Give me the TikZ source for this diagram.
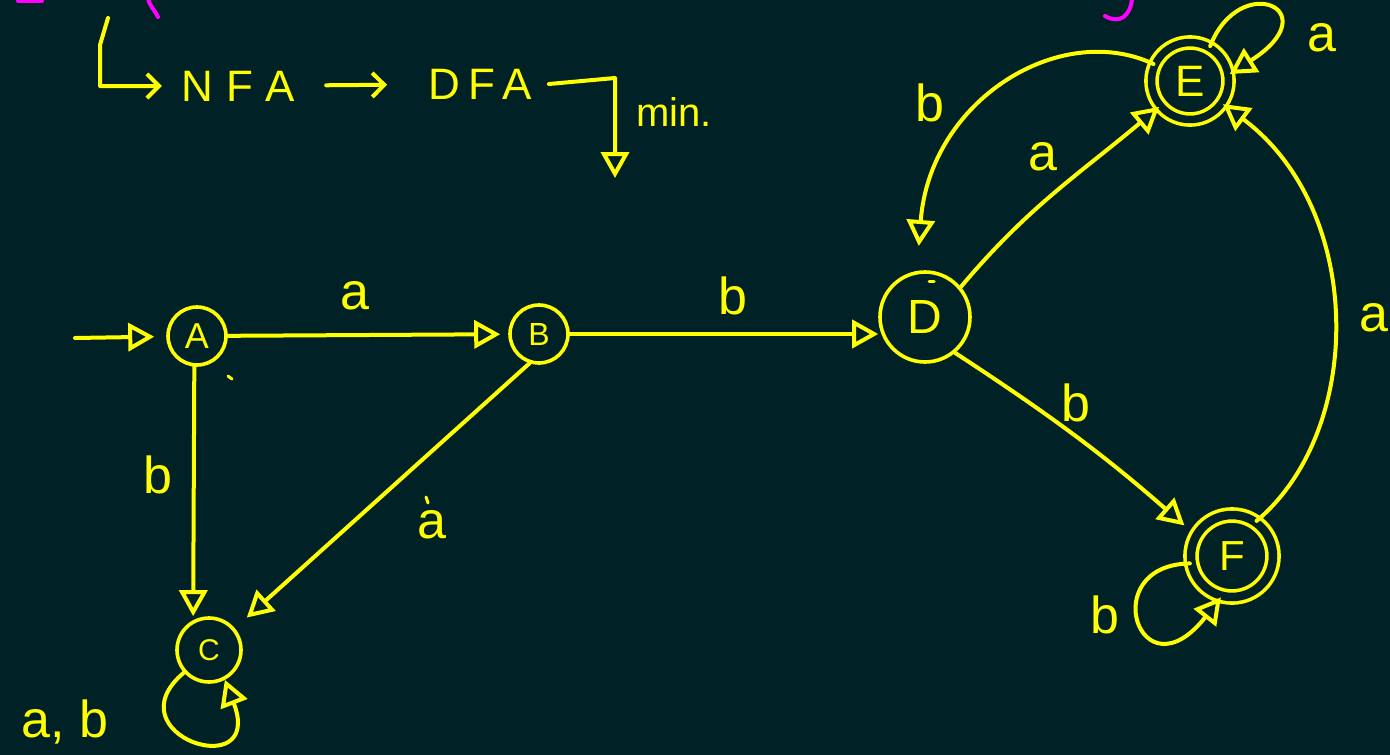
\documentclass[tikz,border=0pt]{standalone}
\usepackage{fontspec}
\setmainfont{Liberation Sans}
\usetikzlibrary{arrows.meta}
\definecolor{bg}{RGB}{0,34,38}
\definecolor{ink}{RGB}{255,255,0}
\definecolor{pinkink}{RGB}{255,0,255}
\begin{document}
\begin{tikzpicture}[x=1pt,y=1pt,
  line width=4pt, line cap=round, line join=round,
  state/.style={circle, draw=ink, line width=3.6pt, inner sep=0pt, text=ink},
  accst/.style={state, double=bg},
  arr/.style={draw=ink, -{Triangle[open, length=26pt, width=28pt]}},
  barb/.style={draw=ink, -{Straight Barb[length=12pt, width=24pt]}},
  lbl/.style={text=ink, font=\fontsize{52}{52}\selectfont, inner sep=0pt},
  strayline/.style={draw=ink, line width=3pt},
  pk/.style={draw=pinkink, line width=4pt}]
\useasboundingbox (0,0) rectangle (1390,-755);
\fill[bg] (0,0) rectangle (1390,-755);

% magenta fragments
\draw[pk] (18,-1) -- (42,-1);
\draw[pk] (148,2) to[out=-80,in=115] (158,-17);
\draw[pk] (1132,2) .. controls (1131,-15) and (1120,-25) .. (1105,-16);

% top line
\node[text=ink, font=\fontsize{44}{44}\selectfont\addfontfeature{LetterSpace=32}] (nfa) at (238,-86) {NFA};
\node[text=ink, font=\fontsize{44}{44}\selectfont\addfontfeature{LetterSpace=20}] (dfa) at (480,-84) {DFA};
\node[text=ink, font=\fontsize{40}{40}\selectfont] (mintxt) at (674,-112) {min.};
\coordinate (l0) at (108,-18);
\coordinate (mn) at (615,-178);
\draw[barb] (l0) -- (100,-45) |- ([xshift=-14pt]nfa.west);
\draw[barb, shorten <=26pt, shorten >=36pt] (nfa) -- (dfa);
\draw[arr] ([xshift=12pt]dfa.east) -- (615,-78) -- (mn);

% states
\node[state, minimum size=58pt, font=\fontsize{36}{36}\selectfont] (A) at (197,-336) {A};
\node[state, minimum size=58pt, font=\fontsize{32}{32}\selectfont] (B) at (539,-334) {B};
\node[state, minimum size=64pt, font=\fontsize{30}{30}\selectfont] (C) at (209,-650) {C};
\node[state, minimum size=90pt, font=\fontsize{48}{48}\selectfont] (D) at (925,-317) {D};
\node[accst, double distance=7.5pt, minimum size=77pt, font=\fontsize{44}{44}\selectfont] (E) at (1190,-81) {E};
\node[accst, double distance=8.5pt, minimum size=82pt, font=\fontsize{42}{42}\selectfont] (F) at (1232,-556) {F};

% transitions
\coordinate (start) at (75,-338);
\draw[arr, shorten >=12pt] (start) -- (A);
\draw[arr, shorten >=8pt] (A) -- (B);
\draw[arr] (B.east) -- (B.east -| D.west);
\draw[arr, shorten >=4pt] (A.265) -- (C.118);
\draw[arr, shorten >=16pt] (B.252) -- (C.40);
\draw[arr] (C.222) .. controls (110,-735) and (265,-785) .. (C.298);
\draw[arr] (D.40) to[out=50,in=220] (E.220);
\draw[arr, shorten >=25pt] (E.155) .. controls (1060,-20) and (930,-100) .. (D.100);
\draw[arr] (E.60) .. controls (1240,30) and (1330,-10) .. (E.10);
\draw[arr, shorten >=14pt] (D.-50) to[bend left=4] (F.150);
\draw[arr] (F.55) .. controls (1365,-430) and (1365,-210) .. (E.-35);
\draw[arr] (F.190) .. controls (1095,-565) and (1140,-700) .. (F.255);

% labels
\node[lbl] at (355,-296) {a};
\node[lbl] at (733,-296) {b};
\node[lbl] at (158,-475) {b};
\node[lbl] at (432,-525) {a};
\node[lbl] at (1043,-157) {a};
\node[lbl] at (930,-103) {b};
\node[lbl] at (1322,-38) {a};
\node[lbl] at (1076,-403) {b};
\node[lbl] at (1374,-318) {a};
\node[lbl] at (1105,-615) {b};
\node[lbl] at (65,-722) {a, b};

% stray marks
\draw[strayline] (228,-376) -- (232,-379);
\draw[strayline] (929,-281) -- (934,-281);
\draw[strayline] (426,-497) -- (428,-503);
\end{tikzpicture}
\end{document}
